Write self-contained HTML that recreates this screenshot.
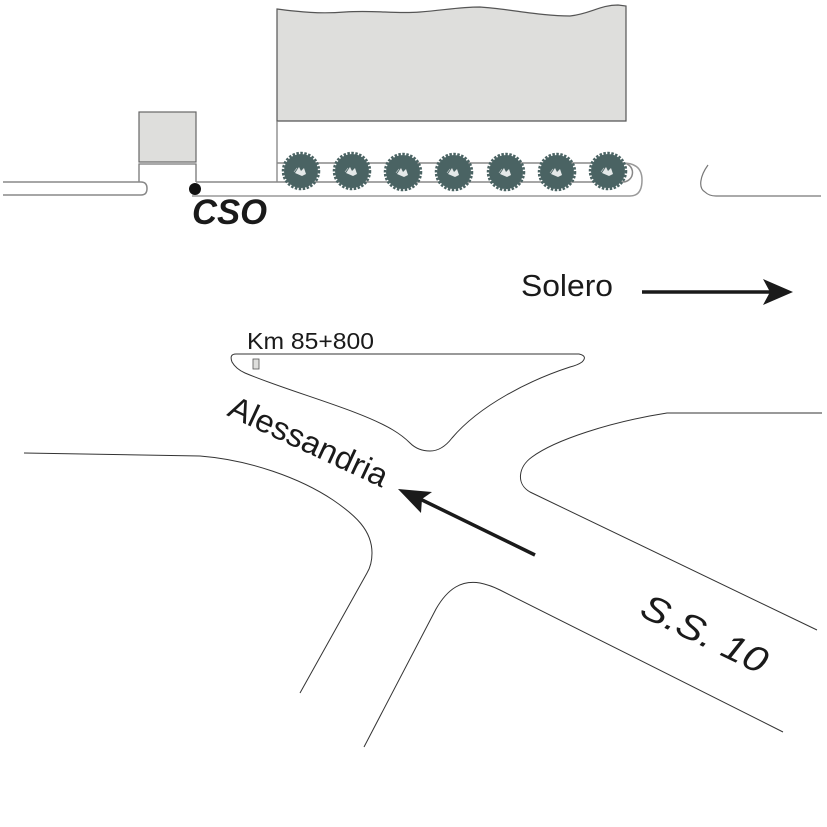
<!DOCTYPE html>
<html><head><meta charset="utf-8"><style>
html,body{margin:0;padding:0;background:#fff;}
svg{display:block;}
text{font-family:"Liberation Sans",Arial,sans-serif;}
</style></head><body>
<svg width="827" height="827" viewBox="0 0 827 827" xmlns="http://www.w3.org/2000/svg">
<defs>
<g id="tree">
<circle cx="0" cy="0" r="17" fill="#4a6363"/>
<circle cx="0" cy="0" r="18" fill="none" stroke="#4a6363" stroke-width="2.5" stroke-dasharray="2.5 1.5"/>
<path d="M-6,2 L-2,-4 L0,0 L3,-3 L5,3 L1,5 Z" fill="#fff" opacity="0.85"/>
<path d="M-7,1 L-4,-3" stroke="#fff" stroke-width="0.8" opacity="0.6"/>
</g>
</defs>

<!-- big building -->
<path d="M277,121 V9 C300,12 320,14 345,12 C375,10 395,14 420,12 C445,10 460,7 480,7 C510,9 540,16 570,16 C590,14 600,5 618,5 L626,6 V121 Z" fill="#dededc" stroke="#555" stroke-width="1.2"/>

<!-- small building -->
<rect x="139" y="112" width="57" height="50" fill="#dededc" stroke="#666" stroke-width="1.2"/>
<path d="M139,182 V164 H196 V182" fill="none" stroke="#777" stroke-width="1.3"/>

<!-- left road -->
<path d="M3,182 H141 Q147,182 147,188.5 Q147,195 141,195 H3" fill="none" stroke="#888" stroke-width="1.5"/>

<!-- strip -->
<path d="M277,121 V182" fill="none" stroke="#777" stroke-width="1.2"/>
<path d="M277,163 H623 A9.5,9.5 0 0 1 623,182 H196" fill="none" stroke="#888" stroke-width="1.5"/>
<path d="M623,163 Q642,163 642,180 Q642,196 630,196 H192" fill="none" stroke="#999" stroke-width="1.5"/>

<!-- trees -->
<use href="#tree" x="301" y="171"/>
<use href="#tree" x="352" y="171"/>
<use href="#tree" x="403" y="172"/>
<use href="#tree" x="454" y="172"/>
<use href="#tree" x="506" y="172"/>
<use href="#tree" x="557" y="172"/>
<use href="#tree" x="608" y="171"/>

<!-- right fragment -->
<path d="M708,165 C700,176 698,188 705,192 Q709,196 716,196 H821" fill="none" stroke="#777" stroke-width="1.2"/>

<!-- CSO dot + label -->
<circle cx="195" cy="189" r="6" fill="#111"/>
<text x="192" y="224" font-size="35" font-weight="bold" font-style="italic" fill="#1a1a1a" textLength="75" lengthAdjust="spacingAndGlyphs">CSO</text>

<!-- Solero -->
<text x="521" y="296" font-size="31" fill="#1a1a1a" textLength="92" lengthAdjust="spacingAndGlyphs">Solero</text>
<line x1="642" y1="292" x2="770" y2="292" stroke="#1a1a1a" stroke-width="3.5"/>
<polygon points="793,292 763,279 770,292 763,305" fill="#1a1a1a"/>

<!-- Km label & island -->
<text x="247" y="349" font-size="23" fill="#1a1a1a" textLength="127" lengthAdjust="spacingAndGlyphs">Km 85+800</text>
<path d="M236,354 H579 Q588,356 582,362 Q578,365 570,367 C530,380 480,405 452,438 Q442,451 430,451 Q418,451 410,443 Q403,436 393,430 C360,410 290,392 245,373 Q236,369 232,362 Q229,354 236,354 Z" fill="none" stroke="#333" stroke-width="1"/>
<rect x="253" y="359" width="6" height="10" fill="#dededc" stroke="#555" stroke-width="0.8"/>

<!-- Alessandria -->
<text transform="translate(226,415) rotate(25)" font-size="32" fill="#1a1a1a" textLength="172" lengthAdjust="spacingAndGlyphs">Alessandria</text>
<line x1="535" y1="555" x2="418" y2="498" stroke="#1a1a1a" stroke-width="3.5"/>
<polygon points="398,489 432,492 422,499 421,513" fill="#1a1a1a"/>

<!-- roads -->
<path d="M24,453 L200,456 C250,460 300,478 333,500 C355,515 372,530 372,553 C372,562 370,568 367,573 L300,693" fill="none" stroke="#333" stroke-width="1"/>
<path d="M364,747 L436,609 C448,588 462,580 480,583 Q490,585 500,590 L783,732" fill="none" stroke="#333" stroke-width="1"/>
<path d="M822,413 H667 C610,422 555,440 532,457 C518,467 516,484 530,492 L817,630" fill="none" stroke="#333" stroke-width="1"/>

<!-- S.S. 10 -->
<text transform="translate(638,615) rotate(26)" font-size="36" font-style="italic" fill="#1a1a1a" textLength="136" lengthAdjust="spacingAndGlyphs">S.S. 10</text>
</svg>
</body></html>
